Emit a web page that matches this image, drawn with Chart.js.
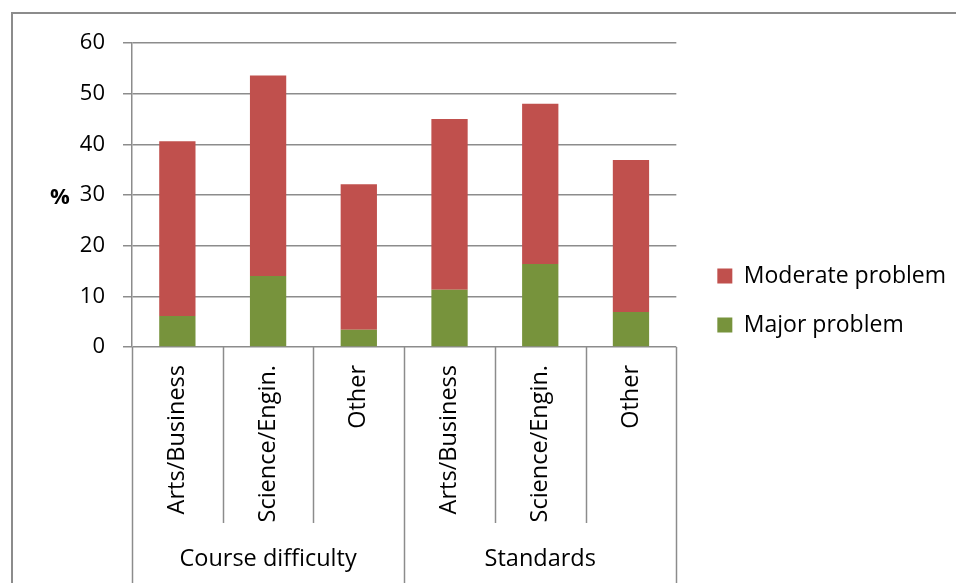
<!DOCTYPE html>
<html>
<head>
<meta charset="utf-8">
<script src="https://cdn.jsdelivr.net/npm/chart.js@4.4.1/dist/chart.umd.min.js"></script>
<style>
  body { margin: 0; background: #fff; overflow: hidden; }
  #frame { position: absolute; left: 11px; top: 12px; width: 1000px; height: 700px;
           border-left: 2px solid #8c8c8c; border-top: 2px solid #8c8c8c; }
  #wrap { position: absolute; left: 0; top: 0; width: 956px; height: 583px; }
</style>
</head>
<body>
<div id="frame"></div>
<div id="wrap"><canvas id="chart" width="956" height="583"></canvas></div>
<script>
const categories = ['Arts/Business', 'Science/Engin.', 'Other', 'Arts/Business', 'Science/Engin.', 'Other'];
const groups = ['Course difficulty', 'Standards'];
const majorProblem = [6.1, 14.0, 3.4, 11.3, 16.4, 6.9];
const moderateProblem = [34.5, 39.6, 28.7, 33.7, 31.6, 30.0];
const yTicks = [0, 10, 20, 30, 40, 50, 60];

const font = 'Open Sans';
const lineColor = '#8c8c8c';

// dividers under the category axis and the '%' label
const axisExtras = {
    id: 'axisExtras',
    afterDraw(chart) {
        const ctx = chart.ctx;
        const x = chart.scales.x;
        const y = chart.scales.y;
        ctx.save();
        ctx.strokeStyle = lineColor;
        ctx.lineWidth = 1.5;
        for (let i = 0; i <= categories.length; i++) {
            const px = Math.round(x.getPixelForValue(i - 0.5)) + 0.5;
            const groupEdge = i % 3 === 0;
            ctx.beginPath();
            ctx.moveTo(px, y.bottom);
            ctx.lineTo(px, groupEdge ? chart.height : x.bottom);
            ctx.stroke();
        }
        ctx.fillStyle = '#000';
        ctx.font = 'bold 22px "' + font + '"';
        ctx.textAlign = 'center';
        ctx.textBaseline = 'middle';
        ctx.fillText('%', 60, y.getPixelForValue(30) + 3);
        ctx.restore();
    }
};

// empty spacer axes, only used to push the plot area around
const spacer = (pos, size) => ({
    position: pos,
    display: true,
    grid: { display: false, drawTicks: false },
    border: { display: false },
    ticks: { display: false },
    afterFit: (scale) => {
        if (pos === 'top') scale.height = size; else scale.width = size;
    }
});

const data = {
    labels: categories,
    datasets: [{
        label: 'Major problem',
        data: majorProblem,
        backgroundColor: '#77933C',
        barPercentage: 0.4,
        categoryPercentage: 1.0
    }, {
        label: 'Moderate problem',
        data: moderateProblem,
        backgroundColor: '#C0504D',
        barPercentage: 0.4,
        categoryPercentage: 1.0
    }]
};

const options = {
    responsive: false,
    animation: false,
    layout: { padding: { left: 80, top: 18, right: 0, bottom: 0 } },
    plugins: {
        tooltip: { enabled: false },
        legend: {
            position: 'right',
            reverse: true,
            maxWidth: 400,
            labels: {
                boxWidth: 15,
                boxHeight: 15,
                padding: 26,
                color: '#000',
                font: { family: font, size: 23 }
            }
        }
    },
    scales: {
        x: {
            stacked: true,
            grid: { display: false, drawTicks: false },
            border: { display: false },
            ticks: {
                minRotation: 90,
                maxRotation: 90,
                padding: 18,
                color: '#000',
                font: { family: font, size: 23.5 }
            },
            afterFit: (scale) => { scale.height = 176; }
        },
        x2: {
            type: 'category',
            position: 'bottom',
            labels: groups,
            offset: true,
            grid: { display: false, drawTicks: false },
            border: { display: false },
            ticks: {
                padding: 22,
                color: '#000',
                font: { family: font, size: 23.5 }
            },
            afterFit: (scale) => { scale.height = 60; }
        },
        y: {
            stacked: true,
            min: 0,
            max: 60,
            afterBuildTicks: (scale) => { scale.ticks = yTicks.map(v => ({ value: v })); },
            grid: { color: lineColor, lineWidth: 1.5, tickLength: 9 },
            border: { color: lineColor, width: 1.5 },
            ticks: {
                padding: 18,
                color: '#000',
                font: { family: font, size: 22 }
            },
            afterFit: (scale) => { scale.width = 52; }
        },
        gapTop: spacer('top', 25),
        gapRight: spacer('right', 15)
    }
};

const ctx = document.getElementById('chart').getContext('2d');
const chart = new Chart(ctx, {
    type: 'bar',
    data: data,
    options: options,
    plugins: [axisExtras]
});
</script>
</body>
</html>
